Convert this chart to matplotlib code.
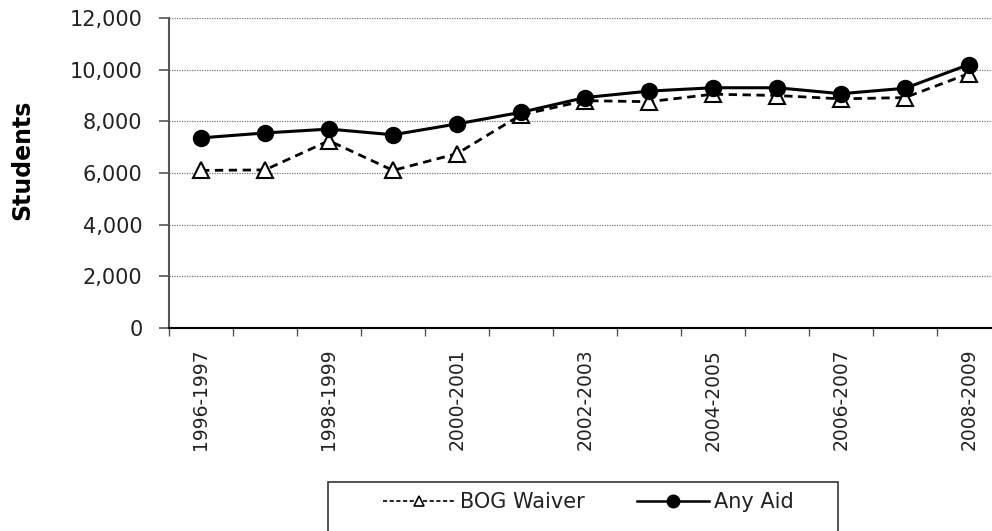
import matplotlib
matplotlib.use('Agg')
import matplotlib.pyplot as plt
from matplotlib.lines import Line2D
from matplotlib.patches import Rectangle
from matplotlib.ticker import FuncFormatter

years = ['1996-1997', '1997-1998', '1998-1999', '1999-2000', '2000-2001',
         '2001-2002', '2002-2003', '2003-2004', '2004-2005', '2005-2006',
         '2006-2007', '2007-2008', '2008-2009']
bog_waiver = [6100, 6120, 7250, 6100, 6750, 8250, 8800, 8760, 9050, 9000, 8870, 8920, 9850]
any_aid = [7360, 7550, 7700, 7480, 7900, 8350, 8920, 9170, 9300, 9300, 9070, 9280, 10200]
y_ticks = [0, 2000, 4000, 6000, 8000, 10000, 12000]

W, H = 992, 531
fig = plt.figure(figsize=(W / 100, H / 100), dpi=100)
ax = fig.add_axes([169 / W, 1 - 328 / H, 832 / W, 310 / H])

x = list(range(len(years)))
ax.plot(x, bog_waiver, color='black', lw=2, ls=(0, (3, 2)), marker='^',
        ms=11.5, mfc='white', mec='black', mew=1.5, zorder=3)
ax.plot(x, any_aid, color='black', lw=2.2, marker='o', ms=11.5,
        mfc='black', mec='black', zorder=4)

ax.set_xlim(-0.5, len(years) - 0.5)
ax.set_ylim(0, 12000)
ax.set_yticks(y_ticks)
ax.yaxis.set_major_formatter(FuncFormatter(lambda v, p: '{:,.0f}'.format(v)))
ax.tick_params(axis='y', labelsize=15, length=7, width=1.2, color='#555555',
               pad=12, labelcolor='#222222')
ax.yaxis.grid(True, ls=(0, (1, 1)), color='#777777', lw=0.9)
ax.set_axisbelow(True)

ax.set_xticks(x[::2])
ax.set_xticklabels(years[::2], rotation=90, fontsize=13.5, color='#222222')
ax.set_xticks([i - 0.5 for i in range(len(years) + 1)], minor=True)
ax.tick_params(axis='x', which='major', length=0, pad=15)
ax.tick_params(axis='x', which='minor', length=6, width=1, color='#555555')

for s in ['top', 'right']:
    ax.spines[s].set_visible(False)
ax.spines['left'].set_color('#555555')
ax.spines['left'].set_linewidth(1.5)
ax.spines['bottom'].set_linewidth(1.5)

fig.text(22 / W, 1 - 160 / H, 'Students', rotation=90, fontsize=17,
         fontweight='bold', ha='center', va='center')

# legend box runs off the bottom of the figure
fig.patches.append(Rectangle((328 / W, -0.05), 510 / W, 0.05 + (531 - 482) / H,
                             transform=fig.transFigure, fill=False,
                             edgecolor='#333333', lw=1.2))
handles = [
    Line2D([], [], color='black', lw=1.2, ls=(0, (2.5, 1.5)), marker='^',
           ms=7, mfc='white', mec='black', mew=1.2),
    Line2D([], [], color='black', lw=1.8, marker='o', ms=9, mfc='black'),
]
fig.legend(handles, ['BOG Waiver', 'Any Aid'], loc='center',
           bbox_to_anchor=(588 / W, 1 - 502 / H), ncol=2, frameon=False,
           fontsize=15, handlelength=3.5, handletextpad=0.2, columnspacing=2.5,
           labelcolor='#222222')

fig.savefig('out.png', dpi=100)
